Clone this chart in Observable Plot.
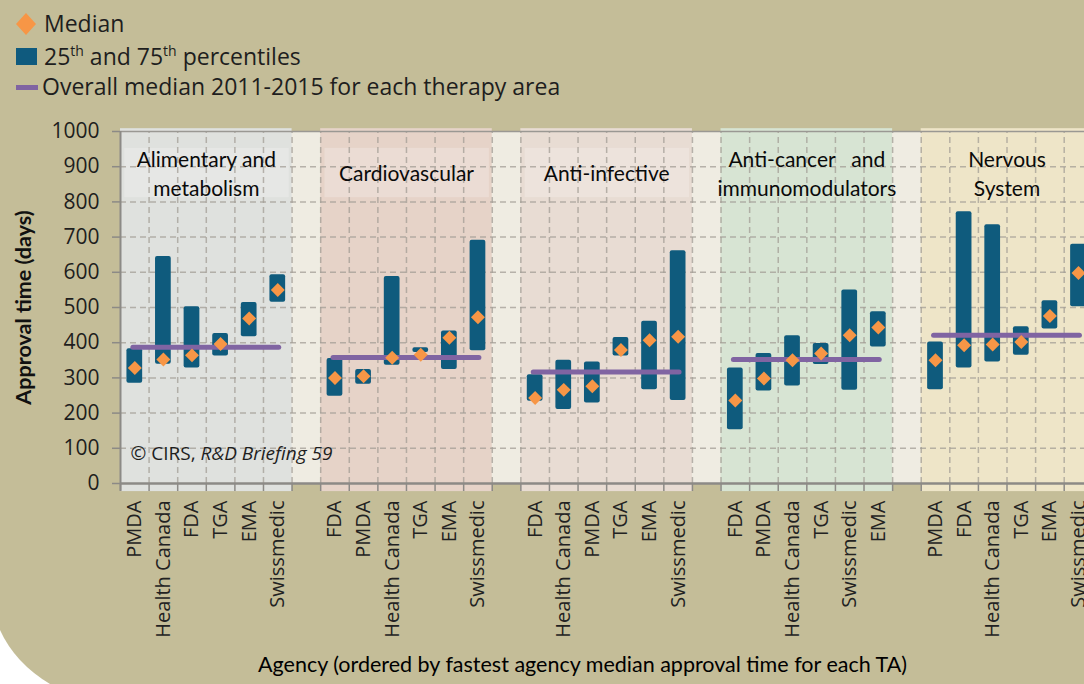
<!DOCTYPE html>
<html><head><meta charset="utf-8">
<script src="https://cdn.jsdelivr.net/npm/d3@7"></script>
<script src="https://cdn.jsdelivr.net/npm/@observablehq/plot@0.6"></script>
<style>
html,body{margin:0;padding:0;background:#fff;}
#page{position:relative;width:1084px;height:684px;overflow:hidden;}
#bg{position:absolute;left:0;top:0;width:1084px;height:684px;background:#c4bd98;clip-path:path('M0,0 H1084 V684 H50 Q15,663 0,630 Z');}
#chart{position:absolute;left:0;top:0;}
#legend{position:absolute;left:0;top:0;}
</style></head>
<body>
<div id="page"><div id="bg"></div><div id="chart"></div>
<svg id="legend" width="600" height="110" font-family="Open Sans" font-size="23" fill="#1e1e1e">
  <polygon points="26,13 36,24 26,35 16,24" fill="#f79646"/>
  <text x="44" y="32">Median</text>
  <rect x="16" y="48" width="21" height="17" fill="#0f5a7e"/>
  <text x="44" y="65">25<tspan font-size="14" dy="-9">th</tspan><tspan dy="9"> and 75</tspan><tspan font-size="14" dy="-9">th</tspan><tspan dy="9"> percentiles</tspan></text>
  <line x1="16" x2="38" y1="87.5" y2="87.5" stroke="#8064a2" stroke-width="5"/>
  <text x="42" y="95">Overall median 2011-2015 for each therapy area</text>
</svg>
</div>
<script>
// ---- data ----
const panelTitles = ["Alimentary and\nmetabolism", "Cardiovascular", "Anti-infective", "Anti-cancer   and\nimmunomodulators", "Nervous\nSystem"];
const agencies = [
  ["PMDA", "Health Canada", "FDA", "TGA", "EMA", "Swissmedic"],
  ["FDA", "PMDA", "Health Canada", "TGA", "EMA", "Swissmedic"],
  ["FDA", "Health Canada", "PMDA", "TGA", "EMA", "Swissmedic"],
  ["FDA", "PMDA", "Health Canada", "TGA", "Swissmedic", "EMA"],
  ["PMDA", "FDA", "Health Canada", "TGA", "EMA", "Swissmedic"]
];
const p25 = [
  [285, 339, 328, 362, 417, 515],
  [248, 282, 336, 372, 324, 377],
  [234, 210, 229, 362, 266, 236],
  [153, 263, 277, 338, 265, 388],
  [266, 328, 345, 364, 439, 502]
];
const p75 = [
  [383, 645, 502, 426, 514, 593],
  [355, 324, 588, 386, 433, 691],
  [309, 350, 345, 415, 461, 661],
  [328, 369, 420, 398, 550, 488],
  [402, 772, 735, 445, 519, 680]
];
const medians = [
  [328, 352, 364, 396, 469, 550],
  [300, 305, 357, 366, 414, 472],
  [243, 266, 276, 379, 407, 417],
  [236, 298, 350, 369, 421, 443],
  [350, 393, 395, 402, 476, 598]
];
const overallMedian = [387, 358, 317, 352, 421];
const yTicks = [0, 100, 200, 300, 400, 500, 600, 700, 800, 900, 1000];
const yLabel = "Approval time (days)";
const xLabel = "Agency (ordered by fastest agency median approval time for each TA)";
const credit = "© CIRS, R&D Briefing 59";

// ---- styles ----
const panelColors = ["#dfe1de", "#e6d3c8", "#e8dcd3", "#d7e4d3", "#eee5c8"];
const boxedTitles = [true, true, true, false, false];
const SLOTS = 7; // 6 agencies + 1 gap per therapy area

const rows = [];
agencies.forEach((list, p) => list.forEach((a, k) => rows.push({
  panel: p, slot: p * SLOTS + k, agency: a, lo: p25[p][k], hi: p75[p][k], med: medians[p][k]
})));
const panels = panelTitles.map((t, p) => ({p, title: t, overall: overallMedian[p], color: panelColors[p], boxed: boxedTitles[p]}));
const boundaries = d3.range(0, panels.length * SLOTS);

const chart = Plot.plot({
  width: 1084, height: 684,
  marginTop: 131, marginBottom: 201, marginLeft: 120, marginRight: 0,
  x: {type: "linear", domain: [0, 33.71], axis: null},
  y: {domain: [0, 1000], axis: null},
  style: {background: "transparent", color: "#1e1e1e", fontFamily: "Open Sans", overflow: "hidden"},
  marks: [
    Plot.frame({fill: "#efece2", stroke: null}),
    Plot.rect(panels, {x1: d => d.p * SLOTS, x2: d => d.p * SLOTS + 6, y1: -23, y2: 1008, fill: d => d.color}),
    Plot.rect(panels.filter(d => d.boxed), {x1: d => d.p * SLOTS + 0.15, x2: d => d.p * SLOTS + 5.9, y1: 812, y2: 952, fill: "#ffffff", fillOpacity: 0.22}),
    Plot.ruleY(yTicks.filter(v => v > 0 && v < 1000), {stroke: "#a39d95", strokeOpacity: 0.75, strokeWidth: 1.5, strokeDasharray: "6,4"}),
    Plot.ruleX(boundaries.filter(b => b > 0), {y1: 0, y2: 1000, stroke: "#a39d95", strokeOpacity: 0.75, strokeWidth: 1.5, strokeDasharray: "6,4"}),
    Plot.ruleY([1000], {stroke: "#9a9893", strokeWidth: 1.5}),
    Plot.axisX({ticks: boundaries, tickSize: 8, tickFormat: () => "", stroke: "#8c8a86", strokeWidth: 1.5, label: null}),
    Plot.axisY({ticks: yTicks, tickSize: 8, tickPadding: 13, tickFormat: d => String(d), fontSize: 21, fontFamily: "Open Sans", stroke: "#8c8a86", strokeWidth: 1.5, label: null}),
    Plot.ruleY([0], {stroke: "#8c8a86", strokeWidth: 2.5}),
    Plot.ruleX([0], {y1: -22, y2: 1000, stroke: "#8c8a86", strokeWidth: 2}),
    Plot.rect(rows, {x1: d => d.slot + 0.5 - 0.275, x2: d => d.slot + 0.5 + 0.275, y1: "lo", y2: "hi", fill: "#0f5b7d", rx: 2}),
    Plot.ruleY(panels, {x1: d => d.p * SLOTS + 0.45, x2: d => d.p * SLOTS + 5.55, y: "overall", stroke: "#8064a2", strokeWidth: 5, strokeLinecap: "round"}),
    Plot.dot(rows, {x: d => d.slot + 0.5, y: "med", symbol: "diamond2", r: 6.3, fill: "#f79646", stroke: null}),
    Plot.text(panels, {x: d => d.p * SLOTS + 3, y: 885, text: "title", fontFamily: "Lato", fontSize: 21, lineHeight: 1.4, fill: "#0a0a0a"}),
    Plot.text(rows, {x: d => d.slot + 0.5, y: 0, text: "agency", rotate: -90, textAnchor: "end", dy: 17, fontFamily: "Open Sans", fontSize: 20, fill: "#222"}),
    Plot.text([credit], {x: 0.35, y: 85, text: d => d, textAnchor: "start", fontFamily: "Open Sans", fontSize: 19, fill: "#1e1e1e"}),
    Plot.text([yLabel], {frameAnchor: "left", dx: -96, rotate: -90, textAnchor: "middle", text: d => d, fontFamily: "Lato", fontWeight: "bold", fontSize: 21.5, fill: "#111"}),
    Plot.text([xLabel], {frameAnchor: "bottom", dy: 188, dx: -20, text: d => d, fontFamily: "Lato", fontSize: 21.5, fill: "#000"})
  ]
});
document.getElementById("chart").append(chart);
// italicise the publication name in the credit line
chart.querySelectorAll("text").forEach(t => {
  if (t.textContent === credit) {
    t.textContent = "";
    const ns = "http://www.w3.org/2000/svg";
    const a = document.createElementNS(ns, "tspan"); a.textContent = "© CIRS, ";
    const b = document.createElementNS(ns, "tspan"); b.textContent = "R&D Briefing 59"; b.setAttribute("font-style", "italic");
    t.append(a, b);
  }
});
</script>
</body></html>
